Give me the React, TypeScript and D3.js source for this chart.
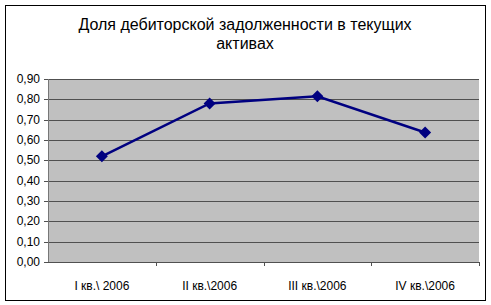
import React from "react";
import * as d3 from "d3";

const categories = ["I кв.\\ 2006", "II кв.\\2006", "III кв.\\2006", "IV кв.\\2006"];
const values = [0.52, 0.78, 0.815, 0.637];
const yTicks = [0, 0.1, 0.2, 0.3, 0.4, 0.5, 0.6, 0.7, 0.8, 0.9];
const titleLines = ["Доля дебиторской задолженности в текущих", "активах"];

export default function App() {
  const W = 491, H = 305;
  const left = 48, right = 479, top = 79, bottom = 262;
  const x = d3.scaleBand<string>().domain(categories).range([left, right]);
  const y = d3.scaleLinear().domain([0, 0.9]).range([bottom, top]);
  const line = d3
    .line<number>()
    .x((_, i) => (x(categories[i]) as number) + x.bandwidth() / 2)
    .y((d) => y(d));
  const font = "'Liberation Sans', Arial, sans-serif";
  const fmt = (v: number) => v.toFixed(2).replace(".", ",");
  return (
    <svg width={W} height={H} style={{ position: "absolute", left: 0, top: 0 }}>
      <rect x={0} y={0} width={W} height={H} fill="#fff" />
      <rect x={5.5} y={5.5} width={480} height={295} fill="#fff" stroke="#000" strokeWidth={1} />
      {titleLines.map((t, i) => (
        <text key={i} x={245} y={30 + i * 19} textAnchor="middle" fontFamily={font} fontSize={16} fill="#000">
          {t}
        </text>
      ))}
      <rect x={left} y={top} width={right - left} height={bottom - top} fill="#C0C0C0" />
      {yTicks.map((t) => (
        <g key={t}>
          {t > 0 && (
            <line x1={left} x2={right} y1={Math.round(y(t)) + 0.5} y2={Math.round(y(t)) + 0.5} stroke="#505050" strokeWidth={1} />
          )}
          <line x1={left - 4} x2={left} y1={Math.round(y(t)) + 0.5} y2={Math.round(y(t)) + 0.5} stroke="#505050" />
          <text x={40} y={y(t) + 4} textAnchor="end" fontFamily={font} fontSize={12} fill="#000">
            {fmt(t)}
          </text>
        </g>
      ))}
      <line x1={left + 0.5} x2={left + 0.5} y1={top} y2={bottom} stroke="#777" />
      <line x1={left} x2={right} y1={bottom + 0.5} y2={bottom + 0.5} stroke="#505050" />
      {categories.map((c, i) => (
        <g key={c}>
          <line
            x1={Math.round((x(c) as number) + x.bandwidth()) + 0.5}
            x2={Math.round((x(c) as number) + x.bandwidth()) + 0.5}
            y1={bottom}
            y2={bottom + 4}
            stroke="#505050"
          />
          <text x={(x(c) as number) + x.bandwidth() / 2} y={290} textAnchor="middle" fontFamily={font} fontSize={12} fill="#000">
            {c}
          </text>
        </g>
      ))}
      <path d={line(values) || ""} fill="none" stroke="#000080" strokeWidth={2.5} />
      {values.map((v, i) => {
        const cx = (x(categories[i]) as number) + x.bandwidth() / 2;
        const cy = y(v);
        const s = 6;
        return (
          <path
            key={i}
            d={`M${cx},${cy - s}L${cx + s},${cy}L${cx},${cy + s}L${cx - s},${cy}Z`}
            fill="#000080"
          />
        );
      })}
    </svg>
  );
}
